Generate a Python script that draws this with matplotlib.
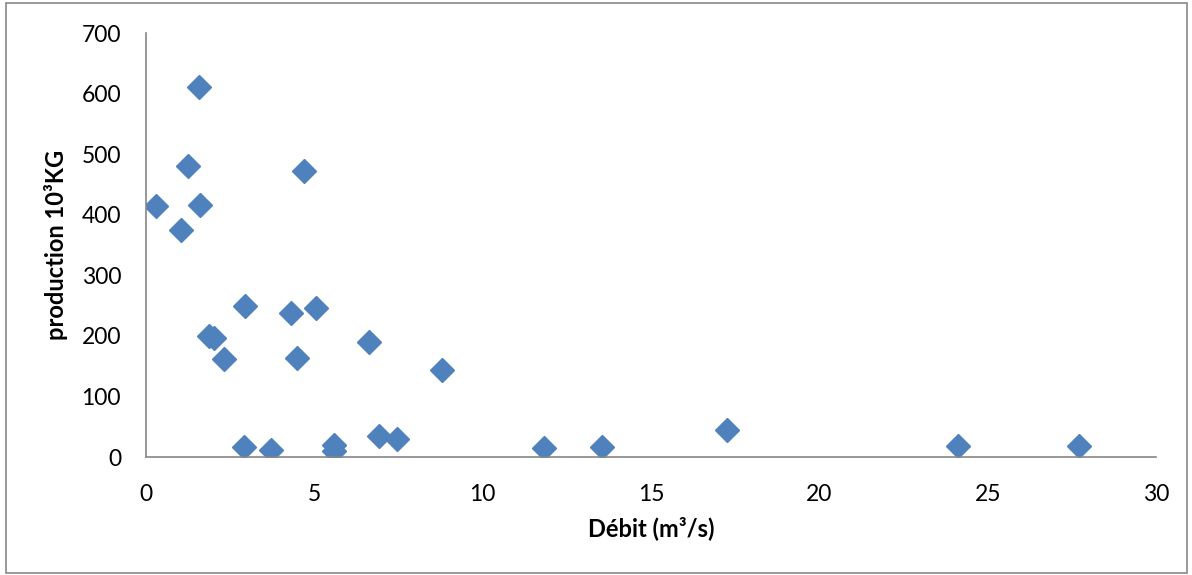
import matplotlib as mpl
mpl.use('Agg')
import matplotlib.pyplot as plt
from matplotlib.patches import Rectangle

plt.rcParams['font.family'] = ['Lato', 'DejaVu Sans']

# debit (m3/s) vs production (10^3 kg)
debit = [0.30, 1.04, 1.25, 1.58, 1.61, 1.87, 2.02, 2.32, 2.94, 2.91,
         3.72, 4.31, 4.49, 4.70, 5.06, 5.59, 5.59, 6.63, 6.93, 7.46,
         8.80, 11.83, 13.55, 17.25, 24.10, 27.70]
production = [414, 375, 480, 611, 416, 200, 196, 162, 249, 16,
              12, 238, 163, 472, 246, 20, 10, 190, 35, 30,
              144, 15, 17, 45, 18, 18]

fig = plt.figure(figsize=(11.92, 5.75), dpi=100)
ax = fig.add_axes([0.1225, 0.2052, 0.8475, 0.7374])

ax.plot(debit, production, linestyle='none', marker='D', markersize=12.5,
        color='#4F81BD', markeredgecolor='#4F81BD')

ax.set_xlim(0, 30)
ax.set_ylim(0, 700)
ax.set_xticks(range(0, 31, 5))
ax.set_yticks(range(0, 701, 100))

for side in ['top', 'right']:
    ax.spines[side].set_visible(False)
for side in ['left', 'bottom']:
    ax.spines[side].set_color('#868686')
    ax.spines[side].set_linewidth(1.2)

ax.tick_params(length=0, labelsize=16.5)
ax.tick_params(axis='x', pad=19.5)
ax.tick_params(axis='y', pad=18)

ax.set_xlabel('Débit (m³/s)', fontsize=17, fontweight='bold', labelpad=8)
ax.set_ylabel('production 10³KG', fontsize=17, fontweight='bold', labelpad=10)

# grey frame around the whole chart
fig.patches.append(Rectangle((0.005, 0.004), 0.991, 0.99, transform=fig.transFigure,
                             fill=False, edgecolor='#888888', linewidth=1.2))

plt.savefig('out.png', dpi=100)
